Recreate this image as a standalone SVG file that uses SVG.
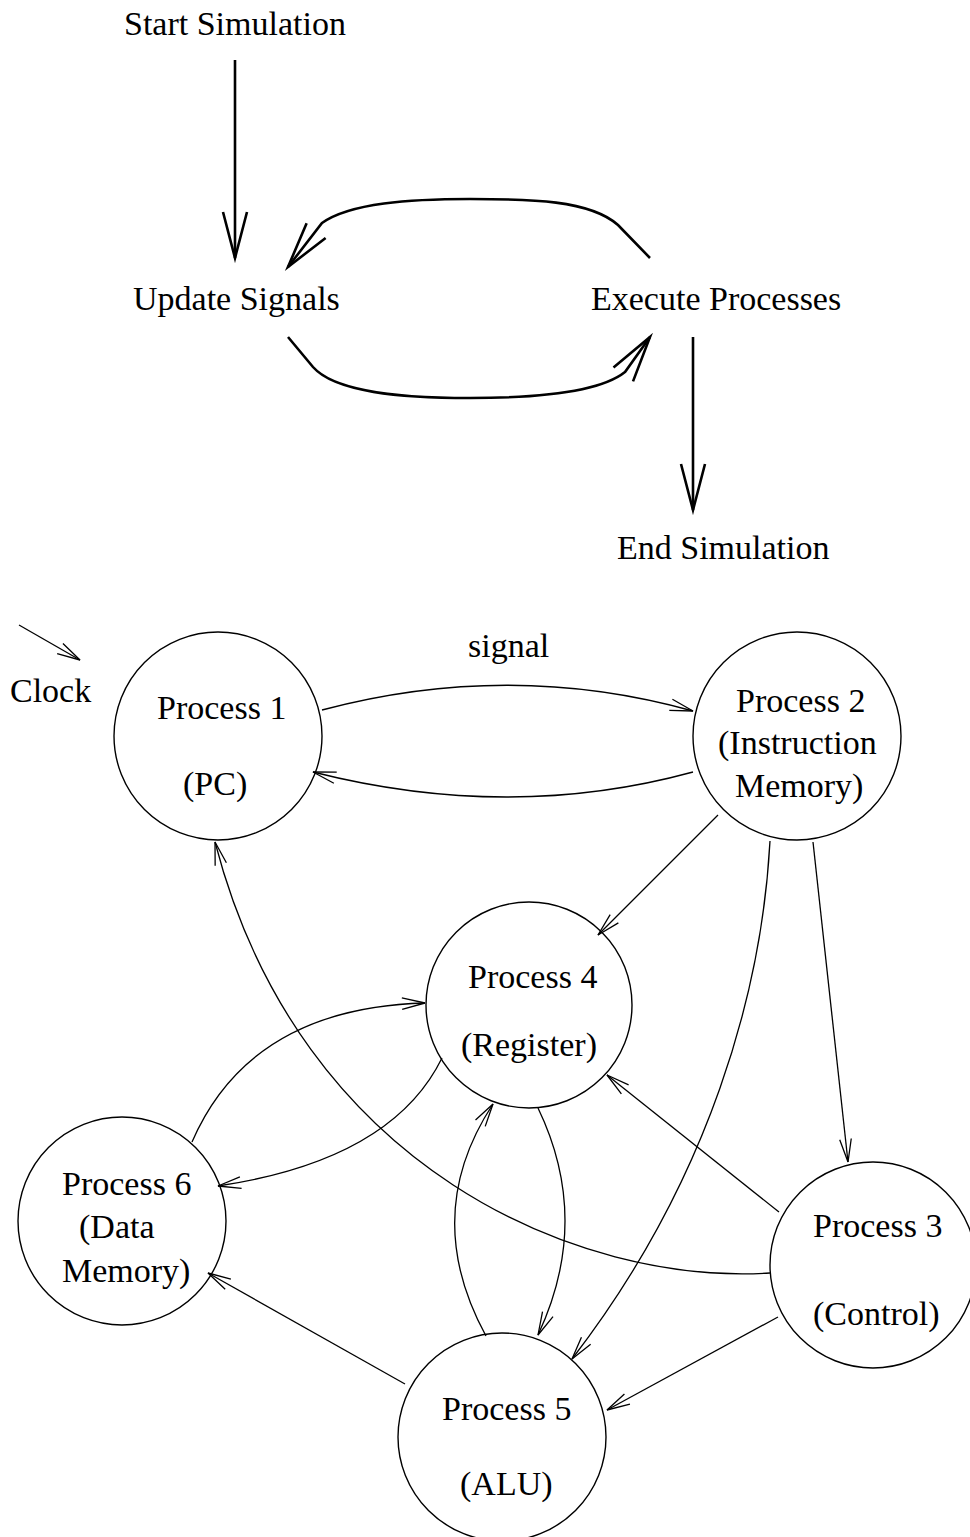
<svg xmlns="http://www.w3.org/2000/svg" width="970" height="1537" viewBox="0 0 970 1537">
  <style>
    text { font-family: "Liberation Serif", "Times New Roman", serif; font-size: 34px; fill: #000; }
    .node { fill: #fff; stroke: #000; stroke-width: 1.4; }
    .flow { fill: none; stroke: #000; stroke-width: 2.6; }
    .link { fill: none; stroke: #000; stroke-width: 1.3; }
  </style>
  <defs>
    <marker id="bigHead" markerUnits="userSpaceOnUse" orient="auto" refX="0" refY="0" markerWidth="60" markerHeight="40" overflow="visible">
      <path d="M-46,-12 L0,0 L-46,12" fill="none" stroke="#000" stroke-width="2.6"/>
    </marker>
    <marker id="thinHead" markerUnits="userSpaceOnUse" orient="auto" refX="0" refY="0" markerWidth="30" markerHeight="20" overflow="visible">
      <path d="M-23,-5.8 L0,0 L-23,5.8" fill="none" stroke="#000" stroke-width="1.3"/>
    </marker>
  </defs>
  <rect width="970" height="1537" fill="#fff"/>

  <!-- simulation loop -->
  <g id="connectors-loop">
    <path class="flow" d="M235,60 L235,258" marker-end="url(#bigHead)"/>
    <path class="flow" d="M650,258 L618,225 C590,200 530,199 470,199 C410,199 350,203 322,223 L288,267" marker-end="url(#bigHead)"/>
    <path class="flow" d="M288,337 L313,367 C335,392 400,398 470,398 C540,398 600,392 625,372 L650,337" marker-end="url(#bigHead)"/>
    <path class="flow" d="M693,337 L693,510" marker-end="url(#bigHead)"/>
  </g>
  <g id="start-simulation"><text x="124" y="35">Start Simulation</text></g>
  <g id="update-signals"><text x="133" y="310">Update Signals</text></g>
  <g id="execute-processes"><text x="591" y="310">Execute Processes</text></g>
  <g id="end-simulation"><text x="617" y="559">End Simulation</text></g>

  <!-- process network -->
  <g id="connectors">
    <path class="link" d="M19,625 L80,660" marker-end="url(#thinHead)"/>
    <path class="link" d="M322,710 Q510,660 693,711" marker-end="url(#thinHead)"/>
    <path class="link" d="M693,772 Q510,822 313,772" marker-end="url(#thinHead)"/>
    <path class="link" d="M718,815 L598,935" marker-end="url(#thinHead)"/>
    <path class="link" d="M770,841 C762,990 710,1180 572,1359" marker-end="url(#thinHead)"/>
    <path class="link" d="M813,842 L848,1162" marker-end="url(#thinHead)"/>
    <path class="link" d="M779,1212 L607,1075" marker-end="url(#thinHead)"/>
    <path class="link" d="M770,1273 C580,1285 300,1170 215,842" marker-end="url(#thinHead)"/>
    <path class="link" d="M442,1058 Q392,1160 218,1186" marker-end="url(#thinHead)"/>
    <path class="link" d="M192,1142 Q250,1008 425,1003" marker-end="url(#thinHead)"/>
    <path class="link" d="M486,1336 Q420,1215 493,1104" marker-end="url(#thinHead)"/>
    <path class="link" d="M538,1108 Q592,1220 538,1335" marker-end="url(#thinHead)"/>
    <path class="link" d="M778,1317 L607,1410" marker-end="url(#thinHead)"/>
    <path class="link" d="M405,1384 L208,1273" marker-end="url(#thinHead)"/>
  </g>

  <g id="clock-label"><text x="10" y="702">Clock</text></g>
  <g id="signal-label"><text x="468" y="657">signal</text></g>

  <g id="process-1">
    <circle class="node" cx="218" cy="736" r="104" fill-opacity="0"/>
    <text x="157" y="719">Process 1</text>
    <text x="183" y="795">(PC)</text>
  </g>
  <g id="process-2">
    <circle class="node" cx="797" cy="736" r="104" fill-opacity="0"/>
    <text x="736" y="712">Process 2</text>
    <text x="718" y="754">(Instruction</text>
    <text x="735" y="797">Memory)</text>
  </g>
  <g id="process-4">
    <circle class="node" cx="529" cy="1005" r="103" fill-opacity="0"/>
    <text x="468" y="988">Process 4</text>
    <text x="461" y="1056">(Register)</text>
  </g>
  <g id="process-6">
    <circle class="node" cx="122" cy="1221" r="104" fill-opacity="0"/>
    <text x="62" y="1195">Process 6</text>
    <text x="79" y="1238">(Data</text>
    <text x="62" y="1282">Memory)</text>
  </g>
  <g id="process-3">
    <circle class="node" cx="873" cy="1265" r="103" fill-opacity="0"/>
    <text x="813" y="1237">Process 3</text>
    <text x="813" y="1325">(Control)</text>
  </g>
  <g id="process-5">
    <circle class="node" cx="502" cy="1437" r="104" fill-opacity="0"/>
    <text x="442" y="1420">Process 5</text>
    <text x="460" y="1495">(ALU)</text>
  </g>
</svg>
